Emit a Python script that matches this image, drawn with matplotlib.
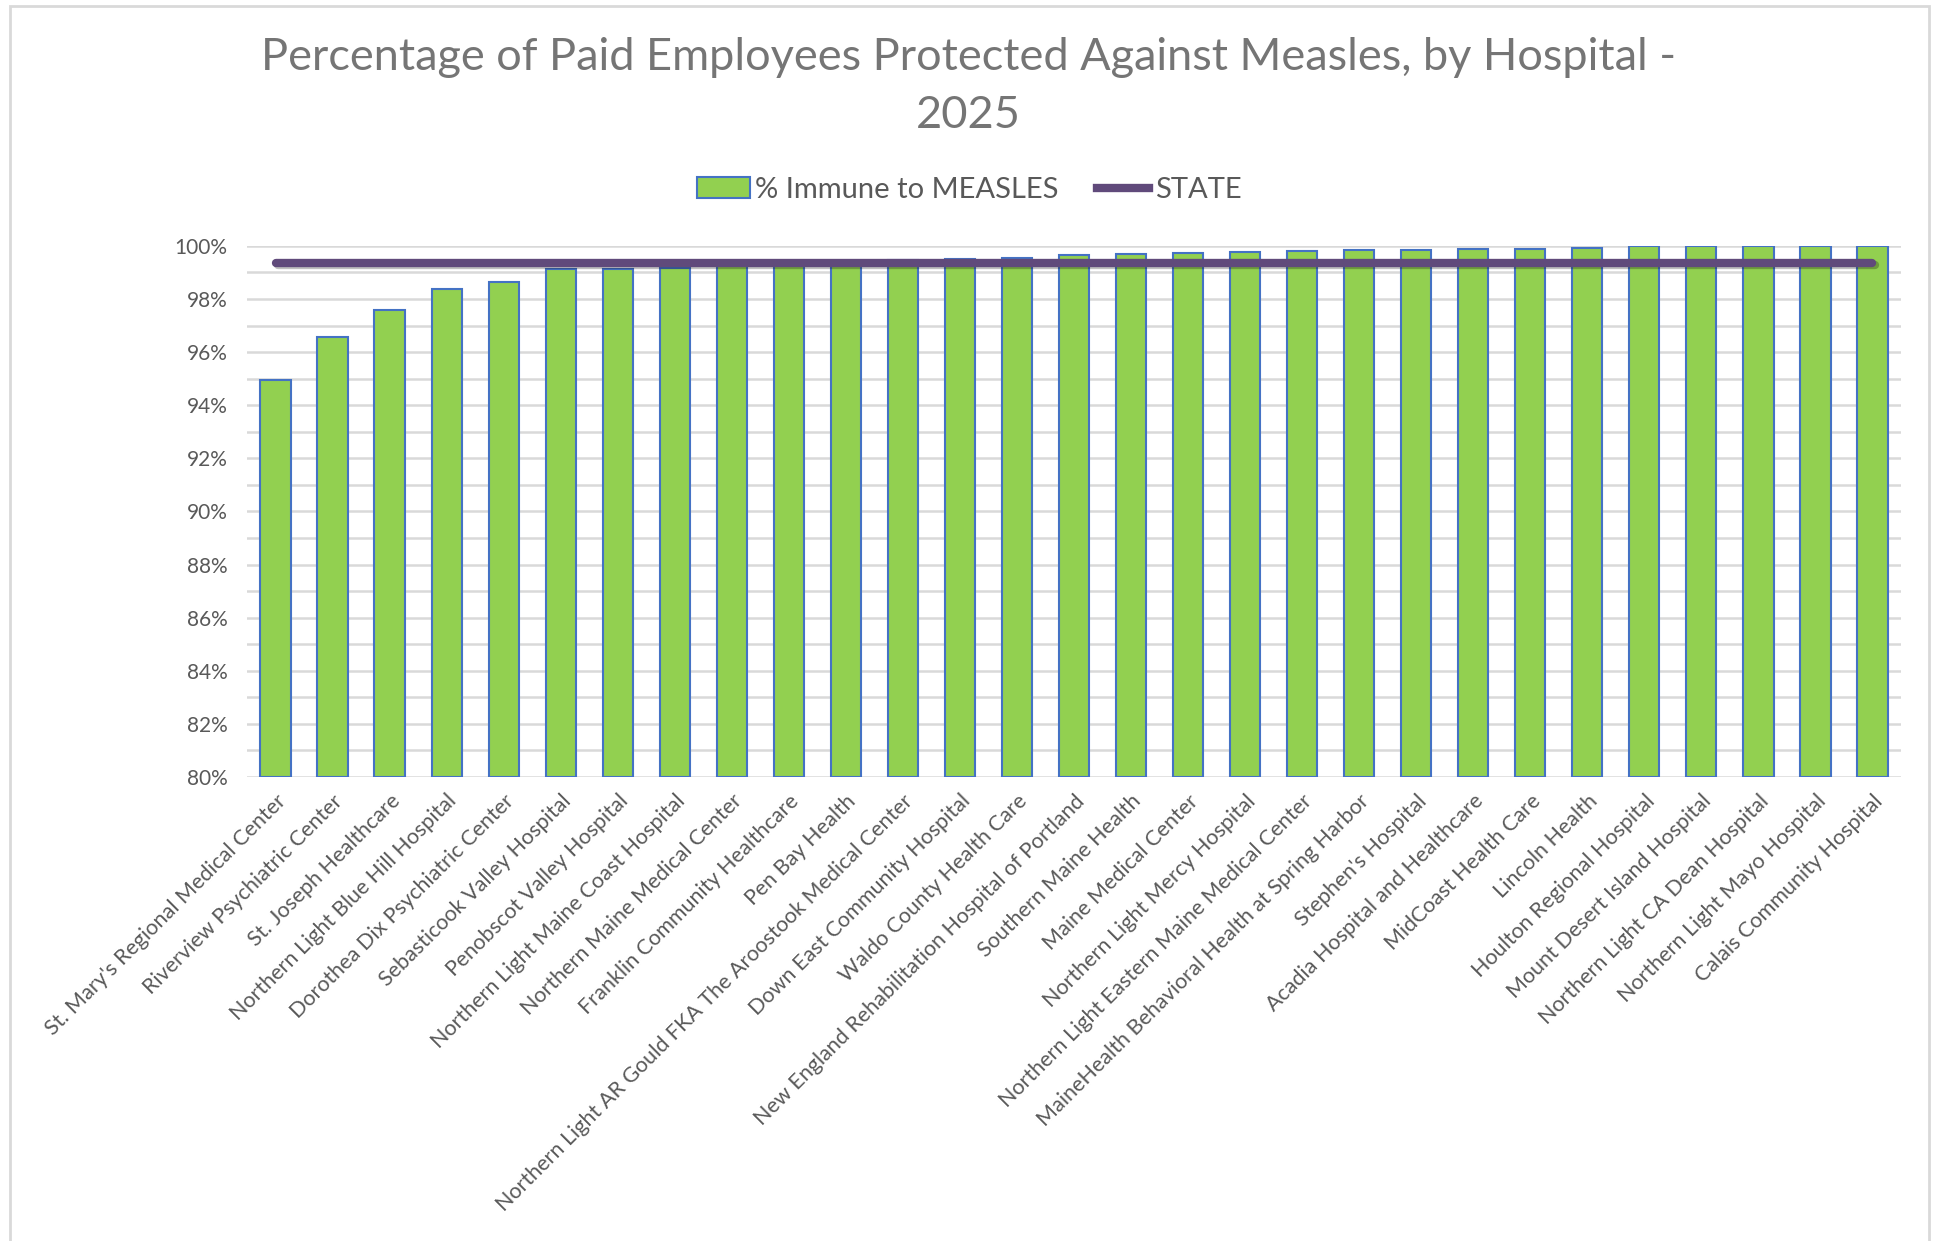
import numpy as np
import matplotlib
matplotlib.use("Agg")
import matplotlib.pyplot as plt
import matplotlib.patheffects as pe
from matplotlib.ticker import MultipleLocator, FuncFormatter
from matplotlib.patches import Rectangle, Patch
from matplotlib.lines import Line2D

plt.rcParams['font.family'] = ['Lato', 'DejaVu Sans']

# Hospitals, sorted by immunity
hospitals = [
    "St. Mary's Regional Medical Center",
    "Riverview Psychiatric Center",
    "St. Joseph Healthcare",
    "Northern Light Blue Hill Hospital",
    "Dorothea Dix Psychiatric Center",
    "Sebasticook Valley Hospital",
    "Penobscot Valley Hospital",
    "Northern Light Maine Coast Hospital",
    "Northern Maine Medical Center",
    "Franklin Community Healthcare",
    "Pen Bay Health",
    "Northern Light AR Gould FKA The Aroostook Medical Center",
    "Down East Community Hospital",
    "Waldo County Health Care",
    "New England Rehabilitation Hospital of Portland",
    "Southern Maine Health",
    "Maine Medical Center",
    "Northern Light Mercy Hospital",
    "Northern Light Eastern Maine Medical Center",
    "MaineHealth Behavioral Health at Spring Harbor",
    "Stephen's Hospital",
    "Acadia Hospital and Healthcare",
    "MidCoast Health Care",
    "Lincoln Health",
    "Houlton Regional Hospital",
    "Mount Desert Island Hospital",
    "Northern Light CA Dean Hospital",
    "Northern Light Mayo Hospital",
    "Calais Community Hospital",
]

# % immune to measles
immune = [94.94, 96.57, 97.59, 98.37, 98.65, 99.12, 99.14, 99.18, 99.34,
          99.38, 99.42, 99.48, 99.50, 99.55, 99.66, 99.70, 99.74, 99.78,
          99.81, 99.84, 99.85, 99.87, 99.89, 99.90, 100.0, 100.0, 100.0,
          100.0, 100.0]

state_value = 99.37

text_gray = "#595959"
title_gray = "#757575"

fig = plt.figure(figsize=(19.39, 12.41), dpi=100)
ax = fig.add_axes([0.1274, 0.3739, 0.853, 0.428])

x = np.arange(len(hospitals))
ax.bar(x, np.array(immune) - 80, bottom=80, width=0.53, color="#92D050",
       edgecolor="#4472C4", linewidth=1.5, zorder=2)

state_line = [state_value] * len(hospitals)
ax.plot(x, state_line, color="#604A7B", linewidth=6, solid_capstyle="round",
        zorder=3,
        path_effects=[pe.SimpleLineShadow(offset=(1.5, -2), alpha=0.25),
                      pe.Normal()])

ax.set_ylim(80, 100)
ax.set_xlim(-0.5, len(hospitals) - 0.5)
ax.yaxis.set_major_locator(MultipleLocator(2))
ax.yaxis.set_minor_locator(MultipleLocator(1))
ax.yaxis.set_major_formatter(FuncFormatter(lambda v, p: f"{v:.0f}%"))
ax.grid(axis="y", which="both", color="#D9D9D9", linewidth=1.8, zorder=0)
ax.set_axisbelow(True)
for s in ax.spines.values():
    s.set_visible(False)
ax.tick_params(axis="both", which="both", length=0, colors=text_gray,
               labelsize=15)
ax.tick_params(axis="y", pad=14)

ax.set_xticks(x)
ax.set_xticklabels(hospitals, rotation=45, ha="right",
                   rotation_mode="anchor", fontsize=15.5, color=text_gray)
ax.tick_params(axis="x", pad=10)

fig.text(0.4995, 0.954, "Percentage of Paid Employees Protected Against Measles, by Hospital -",
         ha="center", va="center", fontsize=32.5, color=title_gray)
fig.text(0.4995, 0.907, "2025", ha="center", va="center", fontsize=32.5,
         color=title_gray)

handles = [Patch(facecolor="#92D050", edgecolor="#4472C4", linewidth=1.5),
           Line2D([0], [0], color="#604A7B", linewidth=6)]
leg = fig.legend(handles, ["% Immune to MEASLES", "STATE"], loc="center",
                 bbox_to_anchor=(0.5, 0.847), ncol=2, frameon=False,
                 fontsize=21, handlelength=1.8, handletextpad=0.2,
                 columnspacing=1.3)
for t in leg.get_texts():
    t.set_color(text_gray)

fig.patches.append(Rectangle((0.005, -0.01), 0.99, 1.005,
                             transform=fig.transFigure, fill=False,
                             edgecolor="#D9D9D9", linewidth=2))

fig.savefig("out.png", dpi=100, facecolor="white")
